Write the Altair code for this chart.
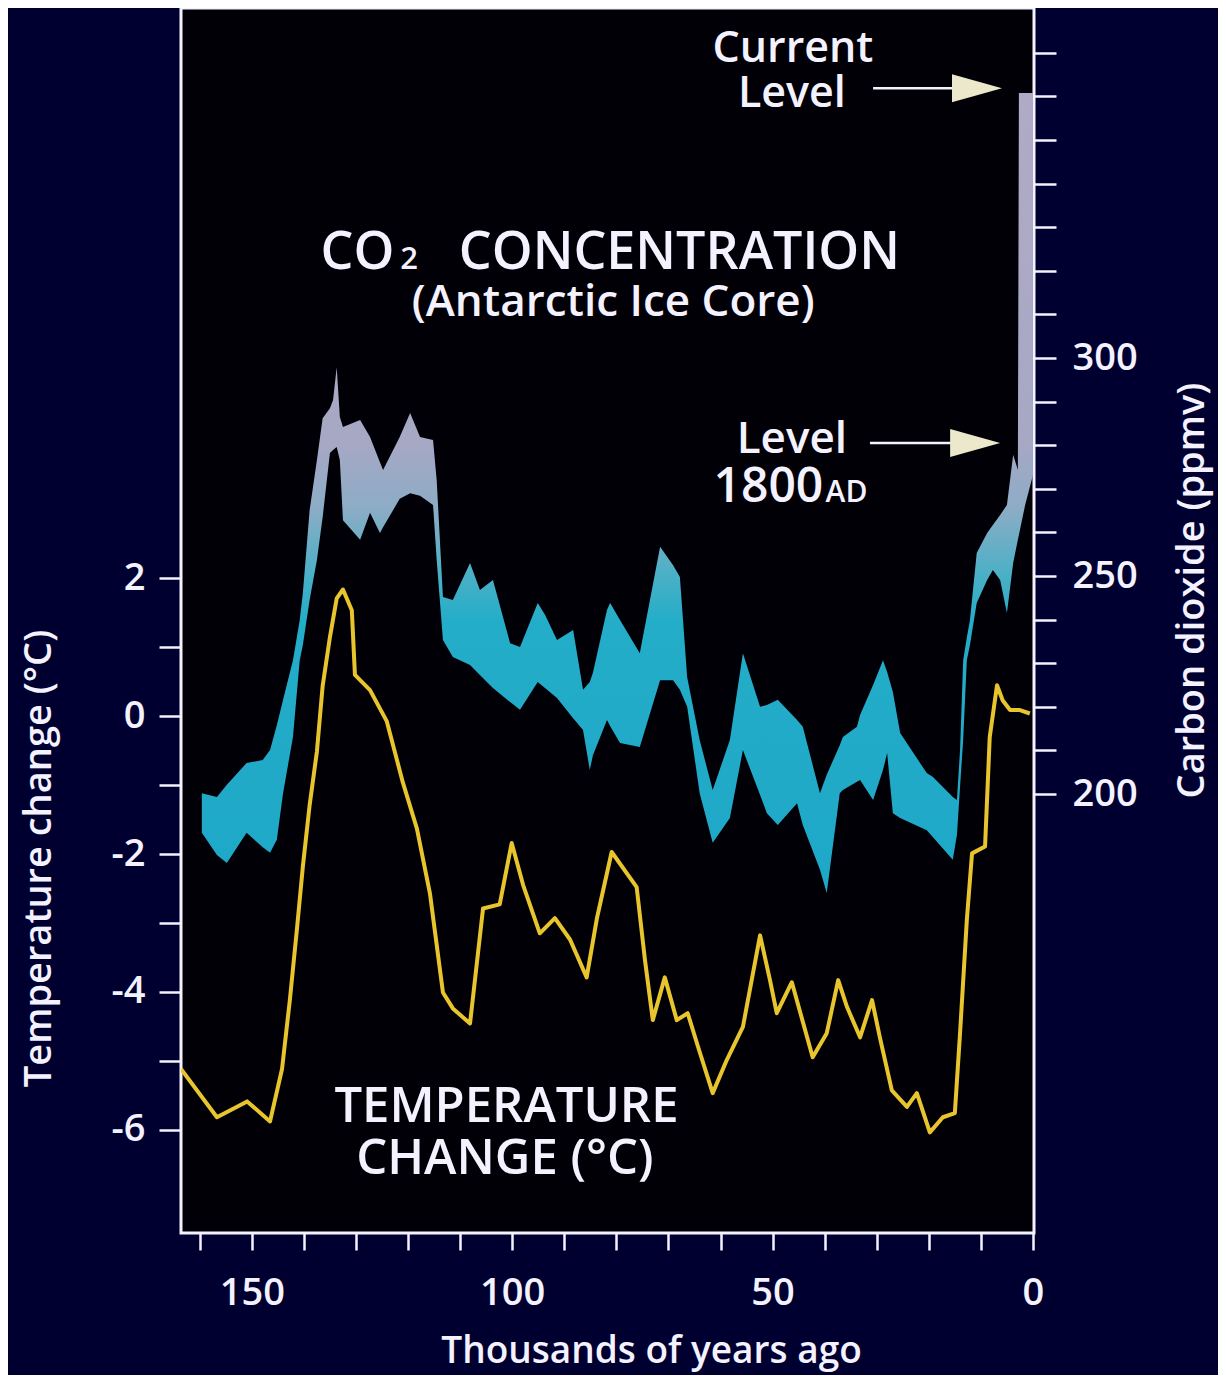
import altair as alt
import pandas as pd

# ---------------- data ----------------
# CO2 band, Antarctic ice core: age (thousand years ago), upper / lower ppmv
co2_age = [159.6, 156.7, 154.8, 151.0, 147.9, 146.5, 145.2, 144.0, 142.1, 140.8,
           140.2, 138.9, 137.5, 136.4, 135.0, 134.4, 133.7, 133.1, 132.5, 129.2,
           127.3, 125.4, 124.8, 121.6, 119.6, 117.7, 115.2, 114.5, 113.3, 111.4,
           108.1, 106.2, 103.7, 100.4, 98.5, 95.1, 93.7, 91.4, 88.3, 86.4,
           85.1, 84.5, 81.8, 81.2, 79.3, 75.5, 71.6, 69.1, 67.8, 66.4,
           64.0, 61.5, 58.2, 55.7, 52.4, 51.1, 49.0, 45.3, 44.2, 40.9,
           39.6, 37.1, 36.5, 33.8, 33.2, 30.7, 28.8, 28.0, 26.9, 25.5,
           20.4, 19.2, 15.4, 14.6, 14.0, 13.4, 12.7, 12.1, 10.8, 8.8,
           7.7, 6.3, 5.0, 3.8, 2.9, 2.7, 1.5, 0.0]
co2_high = [200.2, 199.3, 202.1, 207.1, 207.8, 210.1, 215.8, 221.6, 230.7, 239.9,
            246.1, 265.1, 276.6, 286.2, 288.5, 290.4, 297.9, 286.5, 284.2, 285.8,
            281.9, 276.1, 274.3, 281.9, 287.4, 281.9, 281.2, 272.0, 245.2, 244.5,
            253.0, 246.8, 249.1, 234.6, 233.7, 243.8, 241.1, 235.3, 237.6, 223.9,
            225.7, 227.8, 242.2, 243.8, 239.9, 232.3, 256.7, 252.5, 249.8, 226.8,
            212.4, 200.9, 212.4, 232.3, 220.0, 220.4, 221.6, 217.0, 215.4, 200.2,
            204.4, 211.2, 213.1, 215.4, 218.1, 225.0, 230.7, 228.0, 223.4, 214.0,
            204.8, 203.9, 199.3, 198.6, 210.1, 230.7, 235.9, 239.9, 255.3, 259.9,
            261.7, 264.0, 266.3, 277.8, 274.3, 360.8, 360.8, 360.8]
co2_low = [191.1, 186.0, 184.2, 191.1, 187.8, 186.5, 189.5, 200.2, 213.1, 230.7,
           234.2, 244.5, 253.7, 263.5, 278.2, 278.9, 279.6, 276.6, 262.8, 258.3,
           264.5, 259.9, 261.2, 267.7, 269.0, 268.4, 266.3, 253.7, 235.3, 231.4,
           229.6, 227.3, 224.3, 221.1, 219.3, 225.7, 224.3, 222.0, 217.4, 214.7,
           205.5, 208.9, 217.0, 215.6, 211.7, 210.8, 226.1, 226.1, 223.9, 220.0,
           200.2, 188.8, 194.5, 210.1, 199.8, 195.6, 192.9, 197.9, 192.9, 182.6,
           177.3, 200.2, 200.9, 202.8, 203.2, 198.6, 205.5, 209.4, 195.6, 194.5,
           191.7, 190.1, 184.9, 190.6, 201.6, 212.4, 230.7, 234.2, 243.8, 249.1,
           251.4, 249.1, 241.5, 253.0, 258.3, 259.4, 266.3, 273.2]

# Temperature change (deg C) vs age (thousand years ago)
temp_age = [163.6, 156.7, 150.9, 146.5, 144.2, 142.7, 141.3, 140.2, 138.9, 137.5,
            136.4, 135.0, 133.7, 132.5, 130.8, 130.2, 127.3, 124.1, 121.0, 118.3,
            115.8, 113.3, 111.4, 108.1, 105.6, 102.4, 100.1, 97.9, 94.7, 91.8,
            88.9, 85.7, 83.7, 80.9, 76.1, 74.5, 73.0, 70.7, 68.4, 66.3,
            64.3, 61.5, 58.8, 55.7, 52.4, 50.5, 49.2, 46.3, 42.3, 39.6,
            37.4, 35.7, 33.2, 30.9, 29.4, 27.1, 24.2, 22.3, 19.8, 17.3,
            15.0, 14.0, 12.7, 11.7, 9.2, 8.3, 6.9, 5.8, 4.4, 2.5, 0.6]
temp_change = [-5.12, -5.82, -5.59, -5.88, -5.12, -4.12, -3.06, -2.18, -1.29, -0.51,
               0.44, 1.15, 1.71, 1.84, 1.54, 0.60, 0.38, -0.07, -0.96, -1.63,
               -2.57, -4.01, -4.24, -4.46, -2.79, -2.73, -1.84, -2.45, -3.15, -2.93,
               -3.24, -3.79, -2.92, -1.97, -2.48, -3.54, -4.41, -3.79, -4.41, -4.31,
               -4.80, -5.47, -4.99, -4.51, -3.18, -3.83, -4.31, -3.86, -4.95, -4.60,
               -3.83, -4.22, -4.66, -4.12, -4.66, -5.43, -5.67, -5.47, -6.04, -5.82,
               -5.76, -4.60, -2.96, -1.99, -1.89, -0.30, 0.45, 0.23, 0.09, 0.09, 0.04]

# Reference levels marked by arrows (ppmv)
arrow_levels = [361.9, 280.5]
arrow_start_age = [30.7, 31.3]
arrow_end_age = [15.0, 15.6]
arrowhead_age = [10.75, 11.1]

# Annotation texts (placed in data coordinates: age, ppmv)
note_text = ["Current", "Level", "Level", "1800", "AD", "CO", "2", "CONCENTRATION",
             "(Antarctic Ice Core)", "TEMPERATURE", "CHANGE (\u00b0C)"]
note_age = [46.1, 46.3, 46.3, 50.8, 35.8, 129.7, 119.8, 67.9, 80.6, 101.1, 101.4]
note_ppm = [368.0, 357.6, 278.2, 267.0, 267.0, 320.4, 320.4, 320.4, 309.7, 124.7, 112.9]
note_size = [43, 43, 44, 48, 30, 52, 31, 52, 44, 49, 49]

# ---------------- build ----------------
co2_df = pd.DataFrame({"age": co2_age, "high": co2_high, "low": co2_low})
temp_df = pd.DataFrame({"age": temp_age, "temp": temp_change})
arrow_df = pd.DataFrame({"age": arrow_start_age, "age2": arrow_end_age, "ppm": arrow_levels})
head_df = pd.DataFrame({"age": arrowhead_age, "ppm": arrow_levels})
note_df = pd.DataFrame({"age": note_age, "ppm": note_ppm, "text": note_text, "size": note_size})

WHITE = "#f4f2ff"
FONT = "Open Sans"
X_DOMAIN = [-0.2, 163.6]
T_DOMAIN = [-7.5, 10.28]
C_DOMAIN = [99.3, 380.3]

x_scale = alt.Scale(domain=X_DOMAIN, reverse=True, nice=False, zero=False)
x_axis = alt.Axis(
    values=list(range(0, 161, 10)),
    labelExpr="datum.value % 50 == 0 ? datum.label : ''",
    tickSize=17, labelPadding=24,
    title="Thousands of years ago",
    titleX=470, titleY=129, titleAlign="center", titleBaseline="alphabetic", titleAngle=0,
)
x_enc = alt.X("age:Q", scale=x_scale, axis=x_axis)

ppm_scale = alt.Scale(domain=C_DOMAIN, nice=False, zero=False)

band_gradient = {
    "gradient": "linear", "x1": 0, "x2": 0, "y1": 0, "y2": 1,
    "stops": [
        {"offset": 0.0, "color": "#b0aac6"},
        {"offset": 0.44, "color": "#a6a8c4"},
        {"offset": 0.52, "color": "#8cacc6"},
        {"offset": 0.60, "color": "#4cb0c6"},
        {"offset": 0.66, "color": "#24adc8"},
        {"offset": 1.0, "color": "#1ea8c8"},
    ],
}

co2 = alt.Chart(co2_df).mark_area(color=band_gradient, interpolate="linear", clip=True).encode(
    x=x_enc,
    y=alt.Y("high:Q", scale=ppm_scale, axis=alt.Axis(
        orient="right", values=list(range(200, 371, 10)),
        labelExpr="(datum.value == 200 || datum.value == 250 || datum.value == 300) ? datum.label : ''",
        tickSize=22, labelPadding=16,
        title="Carbon dioxide (ppmv)", titleAngle=270, titleX=158, titleY=582,
        titleAlign="center", titleBaseline="middle", titleFontSize=38,
    )),
    y2="low:Q",
)

temp = alt.Chart(temp_df).mark_line(color="#e8c52c", strokeWidth=4, clip=True,
                                    strokeJoin="round").encode(
    x=x_enc,
    y=alt.Y("temp:Q", scale=alt.Scale(domain=T_DOMAIN, nice=False, zero=False), axis=alt.Axis(
        orient="left", values=list(range(-6, 3)),
        labelExpr="datum.value % 2 == 0 ? '' + datum.value : ''",
        tickSize=22, labelPadding=14,
        title="Temperature change (\u00b0C)", titleAngle=270, titleX=-142, titleY=850,
        titleAlign="center", titleBaseline="middle", titleFontSize=38,
    )),
)

arrows = alt.Chart(arrow_df).mark_rule(color=WHITE, strokeWidth=2.5).encode(
    x=x_enc, x2="age2:Q",
    y=alt.Y("ppm:Q", scale=ppm_scale, axis=None),
)

heads = alt.Chart(head_df).mark_point(
    shape="M -1 -0.56 L 1 0 L -1 0.56 Z", size=2500, filled=True,
    color="#ece8cc", opacity=1,
).encode(
    x=x_enc,
    y=alt.Y("ppm:Q", scale=ppm_scale, axis=None),
)

notes = alt.Chart(note_df).mark_text(
    font=FONT, fontWeight=600, color=WHITE, align="center", baseline="alphabetic",
).encode(
    x=x_enc,
    y=alt.Y("ppm:Q", scale=ppm_scale, axis=None),
    text="text:N",
    size=alt.Size("size:Q", scale=None, legend=None),
)

chart = alt.layer(co2, temp, arrows, heads, notes).resolve_scale(
    y="independent"
).properties(
    width=853, height=1225,
    autosize=alt.AutoSizeParams(type="none"),
    padding={"left": 173, "top": 0, "right": 184, "bottom": 142},
    background="#000030",
).configure_view(
    fill="#000006", stroke=WHITE, strokeWidth=3,
).configure_axis(
    grid=False, domain=False,
    labelFont=FONT, labelFontSize=38, labelFontWeight=600, labelColor=WHITE,
    tickColor=WHITE, tickWidth=2.5,
    titleFont=FONT, titleFontSize=37, titleFontWeight=600, titleColor=WHITE,
    labelFlush=False, labelOverlap=False,
)

chart.save("out.html", embed_options={"renderer": "svg", "actions": False})
